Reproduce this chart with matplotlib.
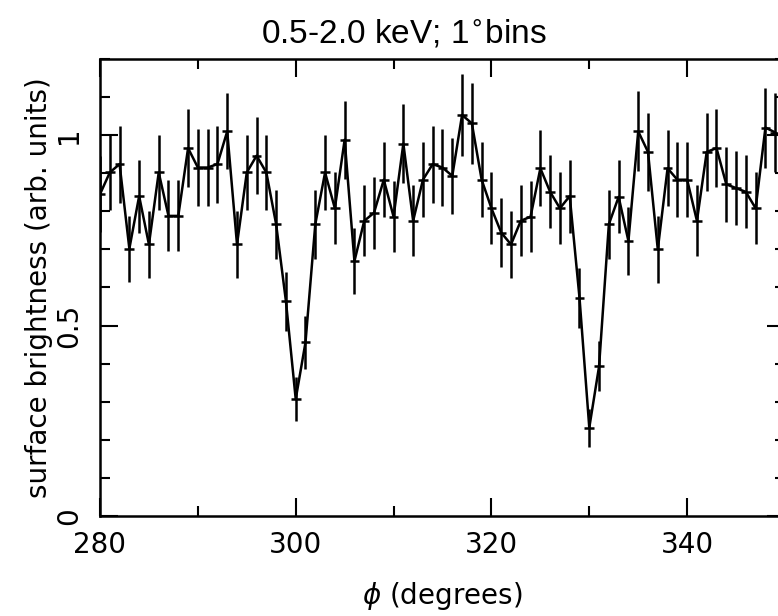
import numpy as np
import matplotlib
matplotlib.use("Agg")
import matplotlib.pyplot as plt
from matplotlib.ticker import MultipleLocator

# azimuthal profile, 1 degree bins
phi = np.arange(280, 350)

brightness = [
    0.845, 0.902, 0.924, 0.702, 0.840, 0.713, 0.902, 0.788, 0.788, 0.966,
    0.915, 0.915, 0.924, 1.010, 0.713, 0.902, 0.946, 0.902, 0.766, 0.564,
    0.307, 0.456, 0.766, 0.902, 0.808, 0.988, 0.669, 0.775, 0.796, 0.883,
    0.786, 0.978, 0.775, 0.883, 0.924, 0.915, 0.893, 1.053, 1.031, 0.883,
    0.808, 0.744, 0.713, 0.775, 0.786, 0.913, 0.851, 0.808, 0.840, 0.573,
    0.232, 0.393, 0.766, 0.838, 0.722, 1.010, 0.956, 0.700, 0.913, 0.883,
    0.883, 0.775, 0.956, 0.966, 0.871, 0.861, 0.851, 0.808, 1.020, 1.007,
]

errors = [
    0.100, 0.099, 0.101, 0.087, 0.096, 0.088, 0.099, 0.093, 0.093, 0.102,
    0.100, 0.100, 0.101, 0.100, 0.088, 0.099, 0.101, 0.099, 0.091, 0.078,
    0.057, 0.070, 0.091, 0.099, 0.095, 0.103, 0.086, 0.093, 0.095, 0.099,
    0.093, 0.103, 0.093, 0.099, 0.101, 0.100, 0.100, 0.108, 0.106, 0.099,
    0.095, 0.091, 0.088, 0.093, 0.093, 0.100, 0.096, 0.095, 0.096, 0.079,
    0.050, 0.066, 0.091, 0.096, 0.089, 0.105, 0.102, 0.088, 0.100, 0.098,
    0.098, 0.093, 0.102, 0.102, 0.098, 0.097, 0.096, 0.095, 0.105, 0.104,
]

fig = plt.figure(figsize=(7.78, 6.16), dpi=100)
# plot frame runs slightly past the right edge of the picture
ax = fig.add_axes([100 / 778, 100 / 616, 685 / 778, 457 / 616])

ax.errorbar(phi, brightness, xerr=0.5, yerr=errors, fmt="none",
            ecolor="black", elinewidth=1.8, capsize=0)
ax.plot(phi, brightness, color="black", lw=1.8)

ax.set_xlim(280, 350)
ax.set_ylim(0, 1.2)

ax.xaxis.set_major_locator(MultipleLocator(20))
ax.xaxis.set_minor_locator(MultipleLocator(10))
ax.yaxis.set_minor_locator(MultipleLocator(0.1))
ax.set_yticks([0, 0.5, 1])
ax.set_yticklabels(["0", "0.5", "1"], rotation=90, va="center")

ax.tick_params(which="both", direction="in", top=True, right=True,
               width=1.5, labelsize=20, colors="black")
ax.tick_params(axis="x", which="major", length=13, pad=11)
ax.tick_params(axis="y", which="major", length=13, pad=12)
ax.tick_params(which="minor", length=7)
for s in ax.spines.values():
    s.set_linewidth(1.8)

ax.set_xlabel(r"$\phi$ (degrees)", fontsize=20, labelpad=15)
ax.set_ylabel("surface brightness (arb. units)", fontsize=20, labelpad=2)
fig.text(404 / 778, 1 - 43 / 616, r"0.5-2.0 keV; 1$^{\circ}$bins",
         fontsize=24, family="Liberation Sans", ha="center", va="baseline")

fig.savefig("out.png", dpi=100)
